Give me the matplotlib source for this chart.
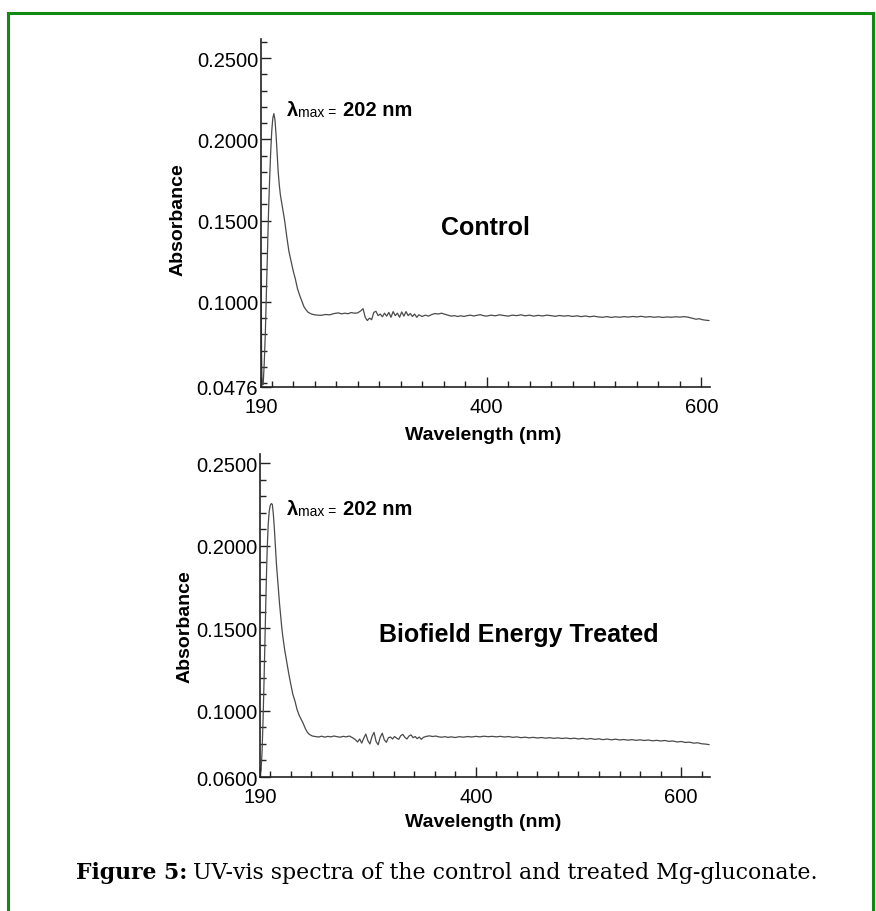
import matplotlib
matplotlib.use("Agg")
import matplotlib.pyplot as plt
from matplotlib.lines import Line2D
from matplotlib.ticker import FixedLocator, FixedFormatter

plt.rcParams['font.family'] = 'Liberation Sans'

# === Data ===
wl_control = [
    190, 190.5, 191, 192, 193, 194, 195, 196, 197, 198, 199, 200, 201, 202,
    203, 204, 205, 206, 207, 208, 209, 210, 212, 214, 216, 218, 220, 222,
    224, 226, 228, 230, 232, 234, 237, 240, 243, 246, 250, 254, 258, 262,
    265, 268, 271, 274, 277, 280, 283, 285, 287, 289, 291, 293, 295, 297,
    299, 301, 303, 305, 307, 309, 311, 313, 315, 317, 319, 321, 323, 325,
    327, 329, 331, 333, 335, 337, 340, 343, 346, 349, 352, 355, 358, 361,
    364, 367, 370, 373, 376, 379, 382, 385, 388, 391, 394, 397, 400, 404,
    408, 412, 416, 420, 424, 428, 432, 436, 440, 444, 448, 452, 456, 460,
    464, 468, 472, 476, 480, 484, 488, 492, 496, 500, 504, 508, 512, 516,
    520, 524, 528, 532, 536, 540, 544, 548, 552, 556, 560, 564, 568, 572,
    576, 580, 584, 588, 592, 595, 598, 601, 604, 607,
]
abs_control = [
    0.1200, 0.0700, 0.0490, 0.0490, 0.0620, 0.0800, 0.1050, 0.1300, 0.1550,
    0.1750, 0.1920, 0.2050, 0.2130, 0.2158, 0.2120, 0.2030, 0.1910, 0.1800,
    0.1720, 0.1660, 0.1620, 0.1580, 0.1500, 0.1400, 0.1310, 0.1250, 0.1190,
    0.1140, 0.1080, 0.1040, 0.1005, 0.0970, 0.0950, 0.0935, 0.0925, 0.0920,
    0.0918, 0.0917, 0.0922, 0.0920, 0.0928, 0.0932, 0.0926, 0.0930, 0.0927,
    0.0934, 0.0930, 0.0932, 0.0945, 0.0958, 0.0905, 0.0885, 0.0900, 0.0890,
    0.0935, 0.0942, 0.0915, 0.0925, 0.0908, 0.0930, 0.0912, 0.0935, 0.0905,
    0.0940, 0.0915, 0.0930, 0.0905, 0.0938, 0.0912, 0.0940, 0.0915, 0.0928,
    0.0910, 0.0925, 0.0905, 0.0920, 0.0910, 0.0918, 0.0912, 0.0922, 0.0928,
    0.0925, 0.0930, 0.0924, 0.0918, 0.0912, 0.0915, 0.0910, 0.0914, 0.0910,
    0.0915, 0.0918, 0.0913, 0.0917, 0.0921, 0.0915, 0.0912, 0.0918, 0.0914,
    0.0920, 0.0916, 0.0912, 0.0918, 0.0915, 0.0920, 0.0914, 0.0918, 0.0912,
    0.0917, 0.0913, 0.0918, 0.0915, 0.0911, 0.0916, 0.0912, 0.0915, 0.0910,
    0.0914, 0.0909, 0.0913, 0.0908, 0.0912, 0.0907, 0.0905, 0.0909, 0.0904,
    0.0908, 0.0905, 0.0909, 0.0906, 0.0910, 0.0907, 0.0911, 0.0906, 0.0909,
    0.0905, 0.0908, 0.0904, 0.0907, 0.0905, 0.0908, 0.0906, 0.0909, 0.0905,
    0.0898, 0.0893, 0.0896, 0.0890, 0.0887, 0.0885,
]

wl_treated = [
    190, 191, 192, 193, 194, 195, 196, 197, 198, 199, 200, 201, 202, 203,
    204, 205, 206, 207, 208, 209, 210, 211, 212, 214, 216, 218, 220, 222,
    224, 226, 228, 230, 232, 234, 236, 238, 241, 244, 247, 250, 253, 256,
    259, 262, 265, 268, 271, 274, 277, 280, 283, 285, 287, 289, 291, 293,
    295, 297, 299, 301, 303, 305, 307, 309, 311, 313, 315, 317, 319, 321,
    323, 325, 327, 329, 331, 333, 335, 337, 339, 341, 343, 345, 347, 349,
    352, 355, 358, 361, 364, 367, 370, 373, 376, 380, 384, 388, 392, 396,
    400, 404, 408, 412, 416, 420, 424, 428, 432, 436, 440, 444, 448, 452,
    456, 460, 464, 468, 472, 476, 480, 484, 488, 492, 496, 500, 504, 508,
    512, 516, 520, 524, 528, 532, 536, 540, 544, 548, 552, 556, 560, 564,
    568, 572, 576, 580, 584, 588, 592, 596, 600, 604, 608, 612, 616, 620,
    624, 627,
]
abs_treated = [
    0.0610, 0.0640, 0.0750, 0.0950, 0.1200, 0.1480, 0.1750, 0.1980, 0.2130,
    0.2210, 0.2245, 0.2255, 0.2250, 0.2190, 0.2100, 0.1990, 0.1890, 0.1810,
    0.1730, 0.1650, 0.1580, 0.1517, 0.1460, 0.1370, 0.1297, 0.1225, 0.1160,
    0.1100, 0.1060, 0.1010, 0.0975, 0.0950, 0.0925, 0.0895, 0.0872, 0.0858,
    0.0848, 0.0845, 0.0842, 0.0847, 0.0841, 0.0846, 0.0843, 0.0848, 0.0844,
    0.0841, 0.0846, 0.0843, 0.0848, 0.0838, 0.0825, 0.0812, 0.0830, 0.0805,
    0.0835, 0.0860, 0.0820, 0.0800, 0.0845, 0.0870, 0.0815, 0.0795, 0.0840,
    0.0865, 0.0825, 0.0810, 0.0838, 0.0842, 0.0830, 0.0845, 0.0835, 0.0828,
    0.0850, 0.0858, 0.0840, 0.0830, 0.0848, 0.0855, 0.0838, 0.0845, 0.0832,
    0.0842, 0.0828, 0.0840, 0.0846, 0.0849, 0.0845, 0.0848, 0.0843, 0.0841,
    0.0844, 0.0840, 0.0843, 0.0839, 0.0844, 0.0841, 0.0845, 0.0842, 0.0846,
    0.0843, 0.0847, 0.0844, 0.0846, 0.0843, 0.0846, 0.0842, 0.0845, 0.0840,
    0.0843, 0.0838, 0.0841, 0.0837, 0.0840, 0.0836, 0.0839, 0.0835, 0.0838,
    0.0834, 0.0837, 0.0833, 0.0836, 0.0832, 0.0835, 0.0830, 0.0834, 0.0829,
    0.0833, 0.0828, 0.0831, 0.0826, 0.0830, 0.0825, 0.0829, 0.0824, 0.0827,
    0.0823, 0.0826, 0.0822, 0.0825, 0.0821, 0.0824, 0.0819, 0.0822, 0.0818,
    0.0821, 0.0816, 0.0818, 0.0812, 0.0815, 0.0809, 0.0811, 0.0805, 0.0807,
    0.0801, 0.0799, 0.0796,
]

panels = [
    dict(x=wl_control, y=abs_control, ylim=(0.0476, 0.2617), xlim=(190, 608),
         yticks=[0.0476, 0.10, 0.15, 0.20, 0.25],
         ylabels=["0.0476", "0.1000", "0.1500", "0.2000", "0.2500"],
         name="Control", xpad=7),
    dict(x=wl_treated, y=abs_treated, ylim=(0.06, 0.2555), xlim=(190, 628),
         yticks=[0.06, 0.10, 0.15, 0.20, 0.25],
         ylabels=["0.0600", "0.1000", "0.1500", "0.2000", "0.2500"],
         name="Biofield Energy Treated", xpad=7),
]

W, H = 876, 912
fig = plt.figure(figsize=(W / 100, H / 100), dpi=100)
fig.patch.set_facecolor('white')


def px(x, y):
    return x / W, 1 - y / H


# axes boxes in pixels: left, top, right, bottom
boxes = [(261, 40, 710, 388), (260, 455, 710, 778)]
label_pos = [dict(ylab=(178, 220), xlab=(483, 436), name=(485, 228), lam=116),
             dict(ylab=(185, 627), xlab=(483, 823), name=(519, 635), lam=515)]

for p, (l, t, r, b), lp in zip(panels, boxes, label_pos):
    ax = fig.add_axes([l / W, 1 - b / H, (r - l) / W, (b - t) / H])
    ax.plot(p['x'], p['y'], color='#4a4a4a', linewidth=0.9)
    ax.set_xlim(*p['xlim'])
    ax.set_ylim(*p['ylim'])

    for s in ['top', 'right']:
        ax.spines[s].set_visible(False)
    for s in ['left', 'bottom']:
        ax.spines[s].set_linewidth(1.2)
        ax.spines[s].set_color('#222222')

    ax.xaxis.set_major_locator(FixedLocator([190, 400, 600]))
    ax.xaxis.set_major_formatter(FixedFormatter(["190", "400", "600"]))
    xmin = [v for v in range(200, int(p['xlim'][1]) + 1, 20) if v not in (400, 600)]
    ax.xaxis.set_minor_locator(FixedLocator(xmin))

    ax.yaxis.set_major_locator(FixedLocator(p['yticks']))
    ax.yaxis.set_major_formatter(FixedFormatter(p['ylabels']))
    ymin = [k / 100 for k in range(5, 27) if k not in (10, 15, 20, 25)]
    ax.yaxis.set_minor_locator(FixedLocator([v for v in ymin if p['ylim'][0] < v <= p['ylim'][1]]))

    ax.tick_params(which='both', direction='in', color='#222222', width=1.0)
    ax.tick_params(which='major', length=7, labelsize=14.5, pad=2)
    ax.tick_params(which='minor', length=4)
    ax.tick_params(axis='x', which='major', pad=p['xpad'])

    fig.text(*px(*lp['ylab']), "Absorbance", rotation=90, fontsize=14,
             fontweight='bold', ha='center', va='center')
    fig.text(*px(*lp['xlab']), "Wavelength (nm)", fontsize=14,
             fontweight='bold', ha='center', va='center')
    fig.text(*px(*lp['name']), p['name'], fontsize=18, fontweight='bold',
             ha='center', va='center')

    # lambda max annotation
    fig.text(*px(287, lp['lam']), "λ", fontsize=14.5, fontweight='bold', va='baseline')
    fig.text(*px(298, lp['lam'] + 1), "max =", fontsize=10, va='baseline')
    fig.text(*px(343, lp['lam']), "202 nm", fontsize=14.5, fontweight='bold', va='baseline')

# Caption
cap_b = fig.text(*px(76, 879), "Figure 5:", family='DejaVu Serif', fontsize=15.8,
                 fontweight='bold', va='baseline')
fig.canvas.draw()
bb = cap_b.get_window_extent()
fig.text(bb.x1 / W + 6 / W, 1 - 879 / H,
         "UV-vis spectra of the control and treated Mg-gluconate.",
         family='DejaVu Serif', fontsize=15.8, va='baseline')

# Green frame
green = '#128a12'
for xs, ys in [([8, 8], [14, H]), ([8, 873], [14, 14]), ([873, 873], [14, H])]:
    fig.add_artist(Line2D([x / W for x in xs], [1 - y / H for y in ys],
                          color=green, linewidth=2.2, transform=fig.transFigure))

fig.savefig("out.png", dpi=100)
